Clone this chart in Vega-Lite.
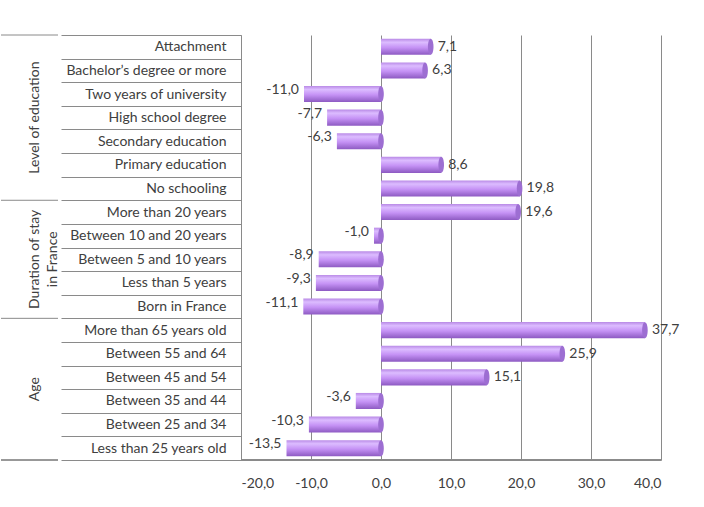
{
  "$schema": "https://vega.github.io/schema/vega-lite/v6.json",
  "padding": {"left": 0, "top": 28, "right": 0, "bottom": 0},
  "background": "#ffffff",
  "config": {
    "font": "Lato",
    "view": {"stroke": null},
    "locale": {"number": {"decimal": ",", "thousands": " ", "grouping": [3], "currency": ["", ""], "minus": "-"}},
    "concat": {"spacing": 0}
  },
  "datasets": {
    "bars": [
      {"category": "Attachment", "value": 7.1},
      {"category": "Bachelor’s degree or more", "value": 6.3},
      {"category": "Two years of university", "value": -11.0},
      {"category": "High school degree", "value": -7.7},
      {"category": "Secondary education", "value": -6.3},
      {"category": "Primary education", "value": 8.6},
      {"category": "No schooling", "value": 19.8},
      {"category": "More than 20 years", "value": 19.6},
      {"category": "Between 10 and 20 years", "value": -1.0},
      {"category": "Between 5 and 10 years", "value": -8.9},
      {"category": "Less than 5 years", "value": -9.3},
      {"category": "Born in France", "value": -11.1},
      {"category": "More than 65 years old", "value": 37.7},
      {"category": "Between 55 and 64", "value": 25.9},
      {"category": "Between 45 and 54", "value": 15.1},
      {"category": "Between 35 and 44", "value": -3.6},
      {"category": "Between 25 and 34", "value": -10.3},
      {"category": "Less than 25 years old", "value": -13.5}
    ],
    "groups": [
      {"group": "Level of education", "first": "Attachment", "mid": "High school degree"},
      {"group": "Duration of stay\nin France", "first": "More than 20 years", "mid": "Between 5 and 10 years"},
      {"group": "Age", "first": "More than 65 years old", "mid": "Between 45 and 54"}
    ]
  },
  "hconcat": [
    {
      "width": 57,
      "height": 425,
      "data": {"name": "groups"},
      "layer": [
        {
          "mark": {"type": "rule", "color": "#8a8a8a", "strokeWidth": 1},
          "encoding": {
            "y": {"field": "first", "type": "nominal", "bandPosition": 0, "axis": null,
              "scale": {"domain": ["Attachment", "Bachelor’s degree or more", "Two years of university", "High school degree", "Secondary education", "Primary education", "No schooling", "More than 20 years", "Between 10 and 20 years", "Between 5 and 10 years", "Less than 5 years", "Born in France", "More than 65 years old", "Between 55 and 64", "Between 45 and 54", "Between 35 and 44", "Between 25 and 34", "Less than 25 years old"], "padding": 0}}
          }
        },
        {
          "mark": {"type": "rule", "color": "#8a8a8a", "strokeWidth": 1},
          "encoding": {
            "y": {"datum": "Less than 25 years old", "type": "nominal", "bandPosition": 1}
          }
        },
        {
          "transform": [{"filter": "datum.group !== 'Age'"}],
          "mark": {"type": "text", "angle": 270, "lineBreak": "\n", "fontSize": 14, "color": "#404040", "dy": 5, "baseline": "middle", "align": "center", "lineHeight": 18},
          "encoding": {
            "y": {"field": "mid", "type": "nominal", "bandPosition": 0.5},
            "text": {"field": "group"}
          }
        },
        {
          "transform": [{"filter": "datum.group === 'Age'"}],
          "mark": {"type": "text", "angle": 270, "fontSize": 14, "color": "#404040", "dy": 5, "baseline": "middle", "align": "center"},
          "encoding": {
            "y": {"field": "mid", "type": "nominal", "bandPosition": 1},
            "text": {"field": "group"}
          }
        }
      ]
    },
    {
      "width": 420,
      "height": 425,
      "data": {"name": "bars"},
      "encoding": {
        "y": {
          "field": "category", "type": "nominal", "sort": null, "title": null,
          "scale": {"domain": ["Attachment", "Bachelor’s degree or more", "Two years of university", "High school degree", "Secondary education", "Primary education", "No schooling", "More than 20 years", "Between 10 and 20 years", "Between 5 and 10 years", "Less than 5 years", "Born in France", "More than 65 years old", "Between 55 and 64", "Between 45 and 54", "Between 35 and 44", "Between 25 and 34", "Less than 25 years old"], "padding": 0},
          "axis": {
            "domain": true, "domainColor": "#8a8a8a", "ticks": true, "tickBand": "extent", "tickSize": 180,
            "tickColor": "#8a8a8a", "labelPadding": -165, "labelFontSize": 14, "labelColor": "#404040",
            "labelLimit": 200, "grid": false
          }
        }
      },
      "layer": [
        {
          "mark": {
            "type": "bar", "height": {"band": 0.68},
            "color": {"gradient": "linear", "x1": 0, "y1": 0, "x2": 0, "y2": 1,
              "stops": [
                {"offset": 0, "color": "#b98ae6"},
                {"offset": 0.22, "color": "#dcbcff"},
                {"offset": 0.55, "color": "#c592f5"},
                {"offset": 1, "color": "#8d5ac2"}
              ]}
          },
          "encoding": {
            "x": {
              "field": "value", "type": "quantitative",
              "scale": {"domain": [-20, 40], "nice": false, "zero": false},
              "axis": {
                "values": [-20, -10, 0, 10, 20, 30, 40], "format": ".1f", "title": null,
                "grid": true, "gridColor": "#8a8a8a", "domain": true, "domainColor": "#8a8a8a", "domainWidth": 1, "ticks": false,
                "labelPadding": 16, "labelFontSize": 14, "labelColor": "#404040"
              }
            }
          }
        },
        {
          "mark": {"type": "rule", "color": "#8a8a8a", "strokeWidth": 1},
          "encoding": {
            "y": {"datum": "Less than 25 years old", "type": "nominal", "bandPosition": 1}
          }
        },
        {
          "transform": [{"filter": "datum.value >= 0"}],
          "mark": {"type": "point", "filled": true, "color": "#9d6ed2", "opacity": 1, "size": 256,
            "shape": "M0,-1A0.35,1 0 1,1 0,1A0.35,1 0 1,1 0,-1Z"},
          "encoding": {"x": {"field": "value", "type": "quantitative"}}
        },
        {
          "transform": [{"filter": "datum.value < 0"}],
          "mark": {"type": "point", "filled": true, "color": "#9d6ed2", "opacity": 1, "size": 256,
            "shape": "M0,-1A0.35,1 0 1,1 0,1A0.35,1 0 1,1 0,-1Z"},
          "encoding": {"x": {"datum": 0, "type": "quantitative"}}
        },
        {
          "transform": [{"filter": "datum.value >= 0"}],
          "mark": {"type": "text", "align": "left", "dx": 7, "fontSize": 14, "color": "#404040"},
          "encoding": {
            "x": {"field": "value", "type": "quantitative"},
            "text": {"field": "value", "type": "quantitative", "format": ".1f"}
          }
        },
        {
          "transform": [{"filter": "datum.value < 0"}],
          "mark": {"type": "text", "align": "right", "dx": -5, "dy": -4, "fontSize": 14, "color": "#404040"},
          "encoding": {
            "x": {"field": "value", "type": "quantitative"},
            "text": {"field": "value", "type": "quantitative", "format": ".1f"}
          }
        }
      ]
    }
  ]
}
